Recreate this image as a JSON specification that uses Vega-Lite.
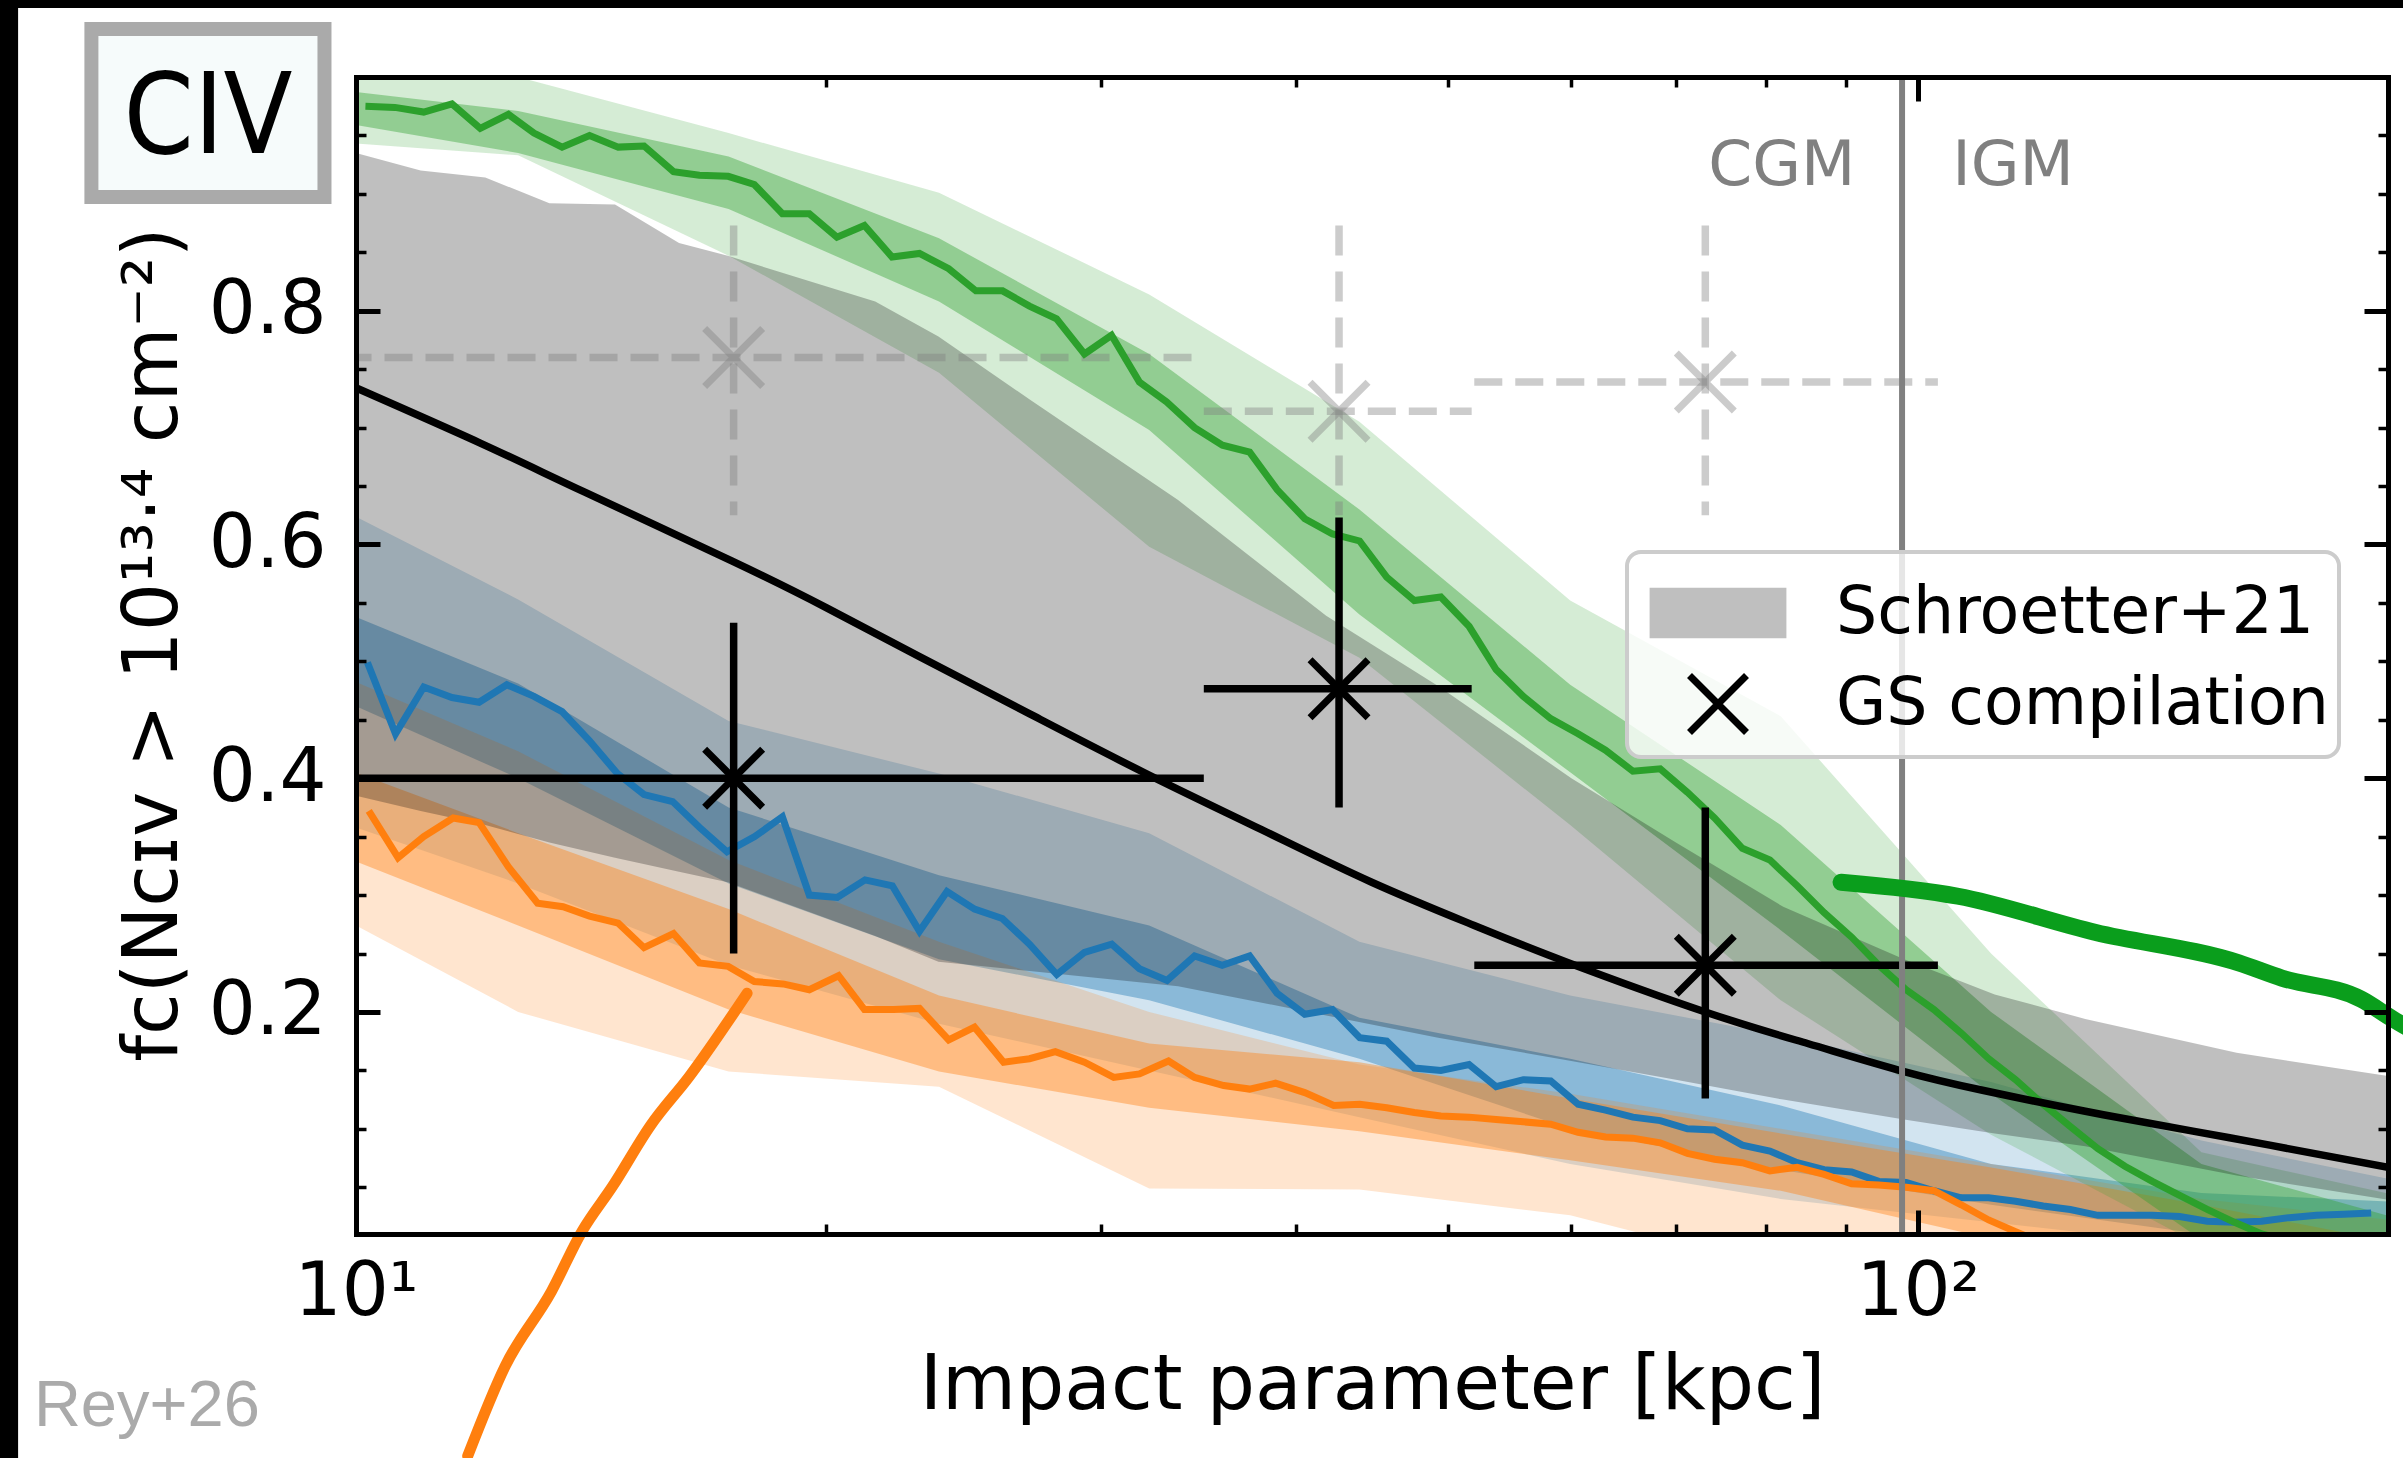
{
"$schema": "https://vega.github.io/schema/vega-lite/v6.json",
"width": 2032, "height": 1157,
"autosize": {"type": "none"},
"padding": {"left": 356, "top": 77, "right": 15, "bottom": 224},
"background": "white",
"config": {"view": {"stroke": null}, "font": "DejaVu Sans"},
"resolve": {"axis": {"x": "independent", "y": "independent"}},
"datasets": {
"blue_light": [
{"x":9.31,"lo":0.372,"hi":0.645},{"x":12.7,"lo":0.31,"hi":0.553},{"x":17.32,"lo":0.24,"hi":0.449},{"x":23.62,"lo":0.19,"hi":0.404},{"x":32.2,"lo":0.15,"hi":0.353},{"x":43.9,"lo":0.11,"hi":0.26},{"x":59.9,"lo":0.07,"hi":0.214},{"x":81.7,"lo":0.04,"hi":0.18},{"x":111.4,"lo":0.02,"hi":0.14},{"x":151.9,"lo":0.0,"hi":0.09},{"x":207.2,"lo":-0.01,"hi":0.053}],
"blue_dark": [
{"x":9.31,"lo":0.48,"hi":0.555},{"x":12.7,"lo":0.40,"hi":0.481},{"x":17.32,"lo":0.31,"hi":0.375},{"x":23.62,"lo":0.245,"hi":0.317},{"x":32.2,"lo":0.21,"hi":0.274},{"x":43.9,"lo":0.16,"hi":0.195},{"x":59.9,"lo":0.10,"hi":0.16},{"x":81.7,"lo":0.065,"hi":0.12},{"x":111.4,"lo":0.035,"hi":0.07},{"x":151.9,"lo":0.01,"hi":0.045},{"x":207.2,"lo":0.0,"hi":0.037}],
"orange_light": [
{"x":9.31,"lo":0.296,"hi":0.50},{"x":12.7,"lo":0.2,"hi":0.423},{"x":17.32,"lo":0.149,"hi":0.33},{"x":23.62,"lo":0.136,"hi":0.26},{"x":32.2,"lo":0.049,"hi":0.20},{"x":43.9,"lo":0.048,"hi":0.155},{"x":59.9,"lo":0.026,"hi":0.13},{"x":81.7,"lo":-0.02,"hi":0.10},{"x":111.4,"lo":-0.05,"hi":0.07},{"x":151.9,"lo":-0.05,"hi":0.04},{"x":207.2,"lo":-0.05,"hi":0.02}],
"orange_dark": [
{"x":9.31,"lo":0.345,"hi":0.42},{"x":12.7,"lo":0.274,"hi":0.353},{"x":17.32,"lo":0.202,"hi":0.288},{"x":23.62,"lo":0.149,"hi":0.214},{"x":32.2,"lo":0.118,"hi":0.173},{"x":43.9,"lo":0.098,"hi":0.157},{"x":59.9,"lo":0.073,"hi":0.126},{"x":81.7,"lo":0.047,"hi":0.096},{"x":111.4,"lo":0.006,"hi":0.067},{"x":151.9,"lo":-0.03,"hi":0.035},{"x":207.2,"lo":-0.05,"hi":0.0}],
"green_light": [
{"x":9.31,"lo":0.946,"hi":1.03},{"x":12.7,"lo":0.933,"hi":1.0},{"x":17.32,"lo":0.847,"hi":0.952},{"x":23.62,"lo":0.747,"hi":0.901},{"x":32.2,"lo":0.598,"hi":0.814},{"x":43.9,"lo":0.503,"hi":0.705},{"x":59.9,"lo":0.36,"hi":0.552},{"x":81.7,"lo":0.21,"hi":0.453},{"x":111.4,"lo":0.095,"hi":0.25},{"x":151.9,"lo":0.0,"hi":0.08},{"x":207.2,"lo":-0.03,"hi":0.04}],
"green_dark": [
{"x":9.31,"lo":0.966,"hi":0.992},{"x":12.7,"lo":0.935,"hi":0.971},{"x":17.32,"lo":0.887,"hi":0.932},{"x":23.62,"lo":0.808,"hi":0.862},{"x":32.2,"lo":0.698,"hi":0.763},{"x":43.9,"lo":0.54,"hi":0.63},{"x":59.9,"lo":0.405,"hi":0.48},{"x":81.7,"lo":0.27,"hi":0.36},{"x":111.4,"lo":0.13,"hi":0.2},{"x":151.9,"lo":0.005,"hi":0.07},{"x":207.2,"lo":-0.03,"hi":0.02}],
"schroetter": [
{"x":9.0,"lo":0.39,"hi":0.94},{"x":10,"lo":0.385,"hi":0.935},{"x":11.0,"lo":0.372,"hi":0.92},{"x":12.1,"lo":0.36,"hi":0.914},{"x":13.3,"lo":0.345,"hi":0.892},{"x":14.65,"lo":0.332,"hi":0.891},{"x":16.1,"lo":0.32,"hi":0.858},{"x":17.3,"lo":0.311,"hi":0.847},{"x":21.5,"lo":0.265,"hi":0.808},{"x":23.6,"lo":0.243,"hi":0.778},{"x":27.0,"lo":0.235,"hi":0.724},{"x":33.6,"lo":0.222,"hi":0.638},{"x":41.8,"lo":0.197,"hi":0.539},{"x":49.3,"lo":0.178,"hi":0.479},{"x":60,"lo":0.158,"hi":0.40},{"x":70,"lo":0.142,"hi":0.345},{"x":82,"lo":0.125,"hi":0.29},{"x":98,"lo":0.108,"hi":0.245},{"x":112,"lo":0.096,"hi":0.215},{"x":128,"lo":0.085,"hi":0.194},{"x":160,"lo":0.06,"hi":0.165},{"x":205,"lo":0.037,"hi":0.143}],
"blue_med": [
{"x":10.17,"y":0.499},{"x":10.6,"y":0.438},{"x":11.05,"y":0.478},{"x":11.52,"y":0.469},{"x":11.99,"y":0.465},{"x":12.49,"y":0.48},{"x":13.0,"y":0.47},{"x":13.55,"y":0.457},{"x":14.11,"y":0.432},{"x":14.7,"y":0.404},{"x":15.29,"y":0.386},{"x":15.95,"y":0.38},{"x":16.59,"y":0.358},{"x":17.28,"y":0.337},{"x":18.0,"y":0.35},{"x":18.75,"y":0.367},{"x":19.51,"y":0.3},{"x":20.33,"y":0.298},{"x":21.18,"y":0.313},{"x":22.05,"y":0.308},{"x":22.95,"y":0.269},{"x":23.9,"y":0.303},{"x":24.89,"y":0.288},{"x":25.93,"y":0.28},{"x":26.99,"y":0.258},{"x":28.1,"y":0.232},{"x":29.27,"y":0.251},{"x":30.47,"y":0.258},{"x":31.74,"y":0.237},{"x":33.06,"y":0.227},{"x":34.43,"y":0.248},{"x":35.86,"y":0.24},{"x":37.34,"y":0.248},{"x":38.88,"y":0.216},{"x":40.5,"y":0.198},{"x":42.19,"y":0.202},{"x":43.92,"y":0.178},{"x":45.7,"y":0.175},{"x":47.6,"y":0.152},{"x":49.5,"y":0.15},{"x":51.6,"y":0.155},{"x":53.7,"y":0.136},{"x":55.9,"y":0.142},{"x":58.2,"y":0.141},{"x":60.6,"y":0.121},{"x":63.1,"y":0.116},{"x":65.7,"y":0.11},{"x":68.4,"y":0.107},{"x":71.2,"y":0.1},{"x":74.1,"y":0.099},{"x":77.2,"y":0.086},{"x":80.4,"y":0.081},{"x":83.7,"y":0.071},{"x":87.1,"y":0.065},{"x":90.7,"y":0.063},{"x":94.4,"y":0.055},{"x":98.3,"y":0.054},{"x":102.4,"y":0.047},{"x":106.6,"y":0.041},{"x":111.0,"y":0.041},{"x":115.5,"y":0.038},{"x":120.3,"y":0.034},{"x":125.2,"y":0.031},{"x":130.4,"y":0.026},{"x":135.7,"y":0.026},{"x":141.3,"y":0.026},{"x":147.1,"y":0.025},{"x":153.2,"y":0.021},{"x":159.5,"y":0.02},{"x":166.0,"y":0.021},{"x":172.9,"y":0.024},{"x":180.0,"y":0.026},{"x":187.4,"y":0.027},{"x":195.1,"y":0.028}],
"orange_med": [
{"x":10.19,"y":0.372},{"x":10.64,"y":0.332},{"x":11.05,"y":0.35},{"x":11.54,"y":0.366},{"x":11.99,"y":0.362},{"x":12.52,"y":0.324},{"x":13.07,"y":0.293},{"x":13.57,"y":0.29},{"x":14.11,"y":0.282},{"x":14.72,"y":0.276},{"x":15.29,"y":0.255},{"x":15.97,"y":0.267},{"x":16.59,"y":0.242},{"x":17.31,"y":0.239},{"x":17.99,"y":0.226},{"x":18.77,"y":0.224},{"x":19.51,"y":0.219},{"x":20.37,"y":0.231},{"x":21.16,"y":0.202},{"x":22.09,"y":0.202},{"x":22.95,"y":0.203},{"x":23.96,"y":0.176},{"x":24.89,"y":0.187},{"x":25.98,"y":0.157},{"x":26.99,"y":0.16},{"x":28.04,"y":0.166},{"x":29.27,"y":0.157},{"x":30.56,"y":0.144},{"x":31.74,"y":0.147},{"x":33.13,"y":0.158},{"x":34.43,"y":0.144},{"x":35.94,"y":0.137},{"x":37.34,"y":0.134},{"x":38.79,"y":0.139},{"x":40.5,"y":0.131},{"x":42.27,"y":0.12},{"x":43.92,"y":0.121},{"x":45.7,"y":0.118},{"x":47.6,"y":0.114},{"x":49.5,"y":0.111},{"x":51.6,"y":0.11},{"x":53.7,"y":0.108},{"x":55.9,"y":0.106},{"x":58.2,"y":0.104},{"x":60.6,"y":0.097},{"x":63.1,"y":0.093},{"x":65.7,"y":0.092},{"x":68.4,"y":0.088},{"x":71.2,"y":0.079},{"x":74.1,"y":0.074},{"x":77.2,"y":0.071},{"x":80.4,"y":0.064},{"x":83.7,"y":0.067},{"x":87.1,"y":0.061},{"x":90.7,"y":0.053},{"x":94.4,"y":0.052},{"x":98.3,"y":0.05},{"x":102.4,"y":0.047},{"x":106.6,"y":0.035},{"x":111.0,"y":0.022},{"x":115.5,"y":0.012},{"x":120.3,"y":0.002},{"x":125.2,"y":-0.006},{"x":130.4,"y":-0.012}],
"green_med": [
{"x":10.14,"y":0.975},{"x":10.59,"y":0.974},{"x":11.05,"y":0.97},{"x":11.52,"y":0.977},{"x":12.01,"y":0.956},{"x":12.52,"y":0.968},{"x":13.0,"y":0.952},{"x":13.55,"y":0.94},{"x":14.11,"y":0.95},{"x":14.72,"y":0.94},{"x":15.29,"y":0.941},{"x":15.97,"y":0.919},{"x":16.59,"y":0.916},{"x":17.31,"y":0.915},{"x":17.99,"y":0.908},{"x":18.75,"y":0.883},{"x":19.51,"y":0.883},{"x":20.32,"y":0.863},{"x":21.16,"y":0.873},{"x":22.04,"y":0.846},{"x":22.95,"y":0.849},{"x":23.96,"y":0.836},{"x":24.94,"y":0.817},{"x":25.94,"y":0.817},{"x":26.99,"y":0.804},{"x":28.09,"y":0.793},{"x":29.27,"y":0.763},{"x":30.46,"y":0.779},{"x":31.74,"y":0.739},{"x":33.04,"y":0.722},{"x":34.43,"y":0.7},{"x":35.87,"y":0.685},{"x":37.34,"y":0.679},{"x":38.88,"y":0.647},{"x":40.5,"y":0.622},{"x":42.19,"y":0.609},{"x":43.91,"y":0.603},{"x":45.7,"y":0.572},{"x":47.6,"y":0.552},{"x":49.5,"y":0.555},{"x":51.6,"y":0.53},{"x":53.7,"y":0.493},{"x":55.9,"y":0.47},{"x":58.2,"y":0.451},{"x":60.6,"y":0.438},{"x":63.1,"y":0.424},{"x":65.7,"y":0.406},{"x":68.4,"y":0.408},{"x":71.2,"y":0.388},{"x":74.1,"y":0.366},{"x":77.2,"y":0.34},{"x":80.4,"y":0.33},{"x":83.7,"y":0.308},{"x":87.1,"y":0.285},{"x":90.7,"y":0.264},{"x":94.4,"y":0.24},{"x":98.3,"y":0.219},{"x":102.4,"y":0.202},{"x":106.6,"y":0.182},{"x":111.0,"y":0.16},{"x":115.5,"y":0.142},{"x":120.3,"y":0.121},{"x":125.2,"y":0.102},{"x":130.4,"y":0.083},{"x":135.7,"y":0.068},{"x":141.3,"y":0.055},{"x":147.1,"y":0.043},{"x":153.2,"y":0.031},{"x":159.5,"y":0.02},{"x":166.0,"y":0.01},{"x":172.9,"y":0.004},{"x":180.0,"y":-0.002},{"x":187.4,"y":-0.006},{"x":195.1,"y":-0.01},{"x":203.1,"y":-0.012}],
"fit": [
{"x":10,"y":0.734},{"x":12,"y":0.687},{"x":14,"y":0.645},{"x":17.4,"y":0.586},{"x":20,"y":0.546},{"x":22.95,"y":0.504},{"x":27,"y":0.455},{"x":32.05,"y":0.404},{"x":38,"y":0.356},{"x":44.7,"y":0.311},{"x":52,"y":0.274},{"x":59.5,"y":0.243},{"x":73.1,"y":0.2},{"x":85,"y":0.173},{"x":98,"y":0.149},{"x":110,"y":0.133},{"x":128,"y":0.115},{"x":150,"y":0.098},{"x":168,"y":0.086},{"x":200,"y":0.067}],
"obs_gray": [
{"x":17.45,"y":0.76,"xlo":8.7,"xhi":34.9,"ylo":0.625,"yhi":0.873},
{"x":42.6,"y":0.714,"xlo":34.9,"xhi":51.8,"ylo":0.625,"yhi":0.873},
{"x":73.1,"y":0.739,"xlo":52.0,"xhi":103,"ylo":0.625,"yhi":0.873}],
"obs_gs": [
{"src":"GS compilation","x":17.45,"y":0.4,"xlo":8.7,"xhi":34.9,"ylo":0.25,"yhi":0.533},
{"src":"GS compilation","x":42.6,"y":0.4765,"xlo":34.9,"xhi":51.8,"ylo":0.375,"yhi":0.623},
{"src":"GS compilation","x":73.1,"y":0.24,"xlo":52.0,"xhi":103,"ylo":0.126,"yhi":0.375}],
"scribble_orange": [
{"x":17.8,"y":0.216},{"x":16.35,"y":0.145},{"x":15.44,"y":0.103},{"x":14.6,"y":0.051},{"x":13.95,"y":0.012},{"x":13.34,"y":-0.039},{"x":12.46,"y":-0.103},{"x":11.79,"y":-0.18}],
"scribble_green": [
{"x":89.3,"y":0.311},{"x":106.1,"y":0.299},{"x":130,"y":0.268},{"x":160.5,"y":0.242},{"x":171,"y":0.229},{"x":192.2,"y":0.211},{"x":201.4,"y":0.194},{"x":210,"y":0.18}]
},
"layer": [
{"data":{"name":"blue_light"},"mark":{"type":"area","color":"#1f77b4","opacity":0.2,"clip":true},
 "encoding":{
  "x":{"field":"x","type":"quantitative","scale":{"type":"log","domain":[10,200],"nice":false},
   "axis":{"orient":"bottom","values":[10,100],"labelExpr":"datum.value == 10 ? '10¹' : '10²'","tickSize":-24,"tickWidth":5,"tickColor":"black","domain":true,"domainWidth":5,"domainColor":"black","domainCap":"square","labelFont":"DejaVu Sans","labelFontSize":74,"labelColor":"black","labelPadding":46,"labelFlush":false,"labelOverlap":false,"labelBound":false,"grid":false,"title":"Impact parameter [kpc]","titleFont":"DejaVu Sans","titleFontSize":76,"titleFontWeight":"normal","titleColor":"black","titleBaseline":"alphabetic","titleY":174,"zindex":1}},
  "y":{"field":"hi","type":"quantitative","scale":{"domain":[0.01,1.0],"nice":false,"zero":false},
   "axis":{"orient":"left","values":[0.2,0.4,0.6,0.8],"format":".1f","tickSize":-24,"tickWidth":5,"tickColor":"black","domain":true,"domainWidth":5,"domainColor":"black","domainCap":"square","labelFont":"DejaVu Sans","labelFontSize":74,"labelColor":"black","labelPadding":54,"labelFlush":false,"labelOverlap":false,"labelBound":false,"grid":false,"title":"fᴄ(Nᴄɪᴠ > 10¹³·⁴  cm⁻²)","titleFont":"DejaVu Sans","titleFontSize":76,"titleFontWeight":"normal","titleColor":"black","titleAngle":-90,"titleBaseline":"alphabetic","titleAlign":"center","titleX":-180,"titleY":567,"zindex":1}},
  "y2":{"field":"lo"}}},
{"data":{"name":"blue_dark"},"mark":{"type":"area","color":"#1f77b4","opacity":0.4,"clip":true},
 "encoding":{
  "x":{"field":"x","type":"quantitative","axis":{"orient":"bottom","values":[20,30,40,50,60,70,80,90,200],"labels":false,"tickSize":-10,"tickWidth":3.5,"tickColor":"black","domain":false,"grid":false,"title":null,"zindex":1}},
  "y":{"field":"hi","type":"quantitative","axis":{"orient":"left","values":[0.05,0.1,0.15,0.25,0.3,0.35,0.45,0.5,0.55,0.65,0.7,0.75,0.85,0.9,0.95],"labels":false,"tickSize":-10,"tickWidth":3.5,"tickColor":"black","domain":false,"grid":false,"title":null,"zindex":1}},
  "y2":{"field":"lo"}}},
{"data":{"name":"orange_light"},"mark":{"type":"area","color":"#ff7f0e","opacity":0.2,"clip":true},
 "encoding":{
  "x":{"field":"x","type":"quantitative","axis":{"orient":"top","values":[10,100],"labels":false,"tickSize":-24,"tickWidth":5,"tickColor":"black","domain":true,"domainWidth":5,"domainColor":"black","domainCap":"square","grid":false,"title":null,"zindex":1}},
  "y":{"field":"hi","type":"quantitative","axis":{"orient":"right","values":[0.2,0.4,0.6,0.8],"labels":false,"tickSize":-24,"tickWidth":5,"tickColor":"black","domain":true,"domainWidth":5,"domainColor":"black","domainCap":"square","grid":false,"title":null,"zindex":1}},
  "y2":{"field":"lo"}}},
{"data":{"name":"orange_dark"},"mark":{"type":"area","color":"#ff7f0e","opacity":0.4,"clip":true},
 "encoding":{
  "x":{"field":"x","type":"quantitative","axis":{"orient":"top","values":[20,30,40,50,60,70,80,90,200],"labels":false,"tickSize":-10,"tickWidth":3.5,"tickColor":"black","domain":false,"grid":false,"title":null,"zindex":1}},
  "y":{"field":"hi","type":"quantitative","axis":{"orient":"right","values":[0.05,0.1,0.15,0.25,0.3,0.35,0.45,0.5,0.55,0.65,0.7,0.75,0.85,0.9,0.95],"labels":false,"tickSize":-10,"tickWidth":3.5,"tickColor":"black","domain":false,"grid":false,"title":null,"zindex":1}},
  "y2":{"field":"lo"}}},
{"data":{"name":"green_light"},"mark":{"type":"area","color":"#2ca02c","opacity":0.2,"clip":true},
 "encoding":{"x":{"field":"x","type":"quantitative","axis":null},"y":{"field":"hi","type":"quantitative","axis":null},"y2":{"field":"lo"}}},
{"data":{"name":"green_dark"},"mark":{"type":"area","color":"#2ca02c","opacity":0.4,"clip":true},
 "encoding":{"x":{"field":"x","type":"quantitative","axis":null},"y":{"field":"hi","type":"quantitative","axis":null},"y2":{"field":"lo"}}},
{"data":{"name":"schroetter"},"mark":{"type":"area","color":"black","opacity":0.25,"clip":true},
 "encoding":{"x":{"field":"x","type":"quantitative","axis":null},"y":{"field":"hi","type":"quantitative","axis":null},"y2":{"field":"lo"}}},
{"data":{"name":"obs_gray"},"mark":{"type":"rule","color":"#808080","opacity":0.4,"strokeWidth":7.5,"strokeDash":[28,13],"clip":true},
 "encoding":{"x":{"field":"xlo","type":"quantitative","axis":null},"x2":{"field":"xhi"},"y":{"field":"y","type":"quantitative","axis":null}}},
{"data":{"name":"obs_gray"},"mark":{"type":"rule","color":"#808080","opacity":0.4,"strokeWidth":7.5,"strokeDash":[30,16],"clip":true},
 "encoding":{"x":{"field":"x","type":"quantitative","axis":null},"y":{"field":"yhi","type":"quantitative","axis":null},"y2":{"field":"ylo"}}},
{"data":{"name":"obs_gray"},"mark":{"type":"point","shape":"M-0.6,-0.6L0.6,0.6M0.6,-0.6L-0.6,0.6","filled":false,"stroke":"#808080","opacity":0.4,"strokeWidth":7,"size":9344},
 "encoding":{"x":{"field":"x","type":"quantitative","axis":null},"y":{"field":"y","type":"quantitative","axis":null}}},
{"data":{"name":"blue_med"},"mark":{"type":"line","color":"#1f77b4","strokeWidth":7,"clip":true},
 "encoding":{"x":{"field":"x","type":"quantitative","axis":null},"y":{"field":"y","type":"quantitative","axis":null}}},
{"data":{"name":"orange_med"},"mark":{"type":"line","color":"#ff7f0e","strokeWidth":7,"clip":true},
 "encoding":{"x":{"field":"x","type":"quantitative","axis":null},"y":{"field":"y","type":"quantitative","axis":null}}},
{"data":{"name":"green_med"},"mark":{"type":"line","color":"#2ca02c","strokeWidth":7,"clip":true},
 "encoding":{"x":{"field":"x","type":"quantitative","axis":null},"y":{"field":"y","type":"quantitative","axis":null}}},
{"data":{"name":"fit"},"mark":{"type":"line","color":"black","strokeWidth":7.5,"interpolate":"natural","clip":true},
 "encoding":{"x":{"field":"x","type":"quantitative","axis":null},"y":{"field":"y","type":"quantitative","axis":null}}},
{"data":{"name":"obs_gs"},"mark":{"type":"rule","color":"black","strokeWidth":7.5,"clip":true},
 "encoding":{"x":{"field":"xlo","type":"quantitative","axis":null},"x2":{"field":"xhi"},"y":{"field":"y","type":"quantitative","axis":null}}},
{"data":{"name":"obs_gs"},"mark":{"type":"rule","color":"black","strokeWidth":7.5,"clip":true},
 "encoding":{"x":{"field":"x","type":"quantitative","axis":null},"y":{"field":"yhi","type":"quantitative","axis":null},"y2":{"field":"ylo"}}},
{"data":{"name":"obs_gs"},"mark":{"type":"point","filled":false,"opacity":1,"strokeWidth":7,"size":9344},
 "encoding":{"x":{"field":"x","type":"quantitative","axis":null},"y":{"field":"y","type":"quantitative","axis":null},
  "fill":{"field":"src","type":"nominal",
   "scale":{"domain":["Schroetter+21","GS compilation"],"range":["#bfbfbf","transparent"]},
   "legend":{"orient":"none","legendX":1271,"legendY":475,"title":null,"symbolSize":9025,"symbolStrokeWidth":7,"labelFont":"DejaVu Sans","labelFontSize":65,"labelColor":"black","labelOffset":67,"labelLimit":0,"padding":10,"rowPadding":0,"fillColor":"rgba(255,255,255,0.8)","strokeColor":"#cccccc","cornerRadius":14,"symbolOffset":30,"symbolOpacity":1,"encode":{"legend":{"update":{"strokeWidth":{"value":4}}}}}},
  "stroke":{"field":"src","type":"nominal",
   "scale":{"domain":["Schroetter+21","GS compilation"],"range":["transparent","black"]},
   "legend":{"orient":"none","legendX":1271,"legendY":475,"title":null,"symbolSize":9025,"symbolStrokeWidth":7,"labelFont":"DejaVu Sans","labelFontSize":65,"labelColor":"black","labelOffset":67,"labelLimit":0,"padding":10,"rowPadding":0,"fillColor":"rgba(255,255,255,0.8)","strokeColor":"#cccccc","cornerRadius":14,"symbolOffset":30,"symbolOpacity":1,"encode":{"legend":{"update":{"strokeWidth":{"value":4}}}}}},
  "shape":{"field":"src","type":"nominal",
   "scale":{"domain":["Schroetter+21","GS compilation"],"range":["M-1.44,-0.53H1.44V0.53H-1.44Z","M-0.6,-0.6L0.6,0.6M0.6,-0.6L-0.6,0.6"]},
   "legend":{"orient":"none","legendX":1271,"legendY":475,"title":null,"symbolSize":9025,"symbolStrokeWidth":7,"labelFont":"DejaVu Sans","labelFontSize":65,"labelColor":"black","labelOffset":67,"labelLimit":0,"padding":10,"rowPadding":0,"fillColor":"rgba(255,255,255,0.8)","strokeColor":"#cccccc","cornerRadius":14,"symbolOffset":30,"symbolOpacity":1,"encode":{"legend":{"update":{"strokeWidth":{"value":4}}}}}}}},
{"data":{"values":[{"x":97.7}]},"mark":{"type":"rule","color":"#808080","strokeWidth":6},
 "encoding":{"x":{"field":"x","type":"quantitative","axis":null}}},
{"data":{"values":[{"x":91.2,"y":0.9076,"t":"CGM"}]},"mark":{"type":"text","align":"right","baseline":"alphabetic","font":"DejaVu Sans","fontSize":63,"color":"#808080"},
 "encoding":{"x":{"field":"x","type":"quantitative","axis":null},"y":{"field":"y","type":"quantitative","axis":null},"text":{"field":"t"}}},
{"data":{"values":[{"x":105.2,"y":0.9076,"t":"IGM"}]},"mark":{"type":"text","align":"left","baseline":"alphabetic","font":"DejaVu Sans","fontSize":63,"color":"#808080"},
 "encoding":{"x":{"field":"x","type":"quantitative","axis":null},"y":{"field":"y","type":"quantitative","axis":null},"text":{"field":"t"}}},
{"data":{"name":"scribble_orange"},"mark":{"type":"line","color":"#ff7f0e","strokeWidth":11,"strokeCap":"round","interpolate":"monotone","clip":false},
 "encoding":{"x":{"field":"x","type":"quantitative","axis":null},"y":{"field":"y","type":"quantitative","axis":null}}},
{"data":{"name":"scribble_green"},"mark":{"type":"line","color":"#0a9e1c","strokeWidth":17,"strokeCap":"round","interpolate":"monotone","clip":false},
 "encoding":{"x":{"field":"x","type":"quantitative","axis":null},"y":{"field":"y","type":"quantitative","axis":null}}},
{"data":{"values":[{}]},"mark":{"type":"rect","fill":"#f6fbfb","stroke":"#aaaaaa","strokeWidth":14,"clip":false},
 "encoding":{"x":{"datum":6.77,"type":"quantitative","axis":null},"x2":{"datum":9.546},"y":{"datum":1.041,"type":"quantitative","axis":null},"y2":{"datum":0.8974}}},
{"data":{"values":[{"t":"CIV"}]},"mark":{"type":"text","align":"center","baseline":"alphabetic","font":"Liberation Sans Narrow, DejaVu Sans Condensed, Liberation Sans","fontSize":112,"color":"black","clip":false},
 "encoding":{"x":{"datum":8.04,"type":"quantitative","axis":null},"y":{"datum":0.935,"type":"quantitative","axis":null},"text":{"field":"t"}}},
{"data":{"values":[{"t":"Rey+26"}]},"mark":{"type":"text","align":"left","baseline":"alphabetic","font":"Liberation Sans","fontSize":65,"color":"#aaaaaa","clip":false},
 "encoding":{"x":{"datum":6.22,"type":"quantitative","axis":null},"y":{"datum":-0.1545,"type":"quantitative","axis":null},"text":{"field":"t"}}},
{"data":{"values":[{}]},"mark":{"type":"rect","fill":"black","clip":false},
 "encoding":{"x":{"datum":1,"type":"quantitative","axis":null},"x2":{"datum":6.0765},"y":{"datum":-1,"type":"quantitative","axis":null},"y2":{"datum":2}}},
{"data":{"values":[{}]},"mark":{"type":"rect","fill":"black","clip":false},
 "encoding":{"x":{"datum":1,"type":"quantitative","axis":null},"x2":{"datum":1000},"y":{"datum":1.059,"type":"quantitative","axis":null},"y2":{"datum":2}}}
]
}
